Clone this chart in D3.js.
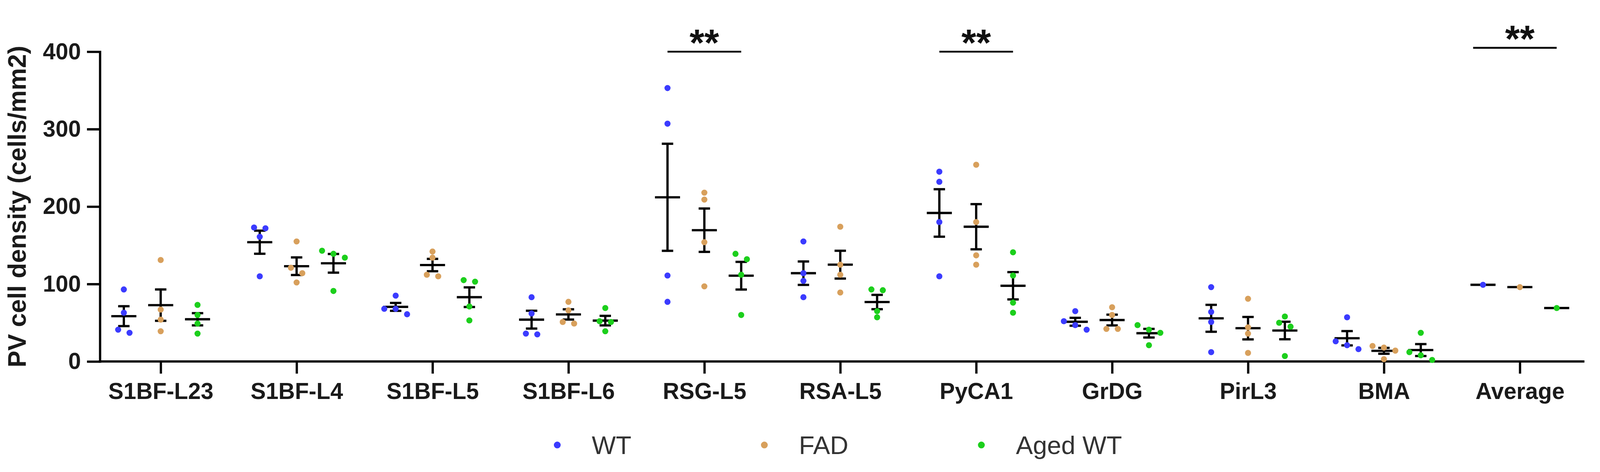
<!DOCTYPE html>
<html>
<head>
<meta charset="utf-8">
<script src="https://cdn.jsdelivr.net/npm/d3@7"></script>
<style>
  html, body { margin: 0; padding: 0; background: #fff; overflow: hidden; }
  svg { display: block; font-family: "Liberation Sans", Arial, sans-serif; }
</style>
</head>
<body>
<div id="chart"></div>
<script>
// regions on the x axis; the last one holds the per-group averages
const categories = ['S1BF-L23', 'S1BF-L4', 'S1BF-L5', 'S1BF-L6', 'RSG-L5', 'RSA-L5',
  'PyCA1', 'GrDG', 'PirL3', 'BMA', 'Average'];
const groups = ['WT', 'FAD', 'Aged WT'];
const groupColors = ['#3b3bff', '#d8a05c', '#1ccf1c'];

// individual animals, one array per region (same order as categories, without Average)
const wtValues = [
  [93, 63, 41, 37], [173, 172, 161, 110], [85, 68, 68, 61], [83, 62, 36, 35],
  [353, 307, 111, 77], [155, 114, 104, 83], [245, 232, 180, 110], [65, 52, 47, 41],
  [96, 64, 51, 12], [57, 26, 21, 16]
];
const fadValues = [
  [131, 67, 54, 39], [155, 121, 114, 102], [142, 134, 112, 110], [77, 66, 51, 49],
  [218, 209, 154, 97], [174, 125, 112, 89], [254, 180, 137, 125], [70, 60, 42, 42],
  [81, 44, 36, 11], [20, 18, 14, 3]
];
const agedValues = [
  [73, 60, 49, 36], [143, 139, 134, 91], [105, 103, 71, 53], [69, 52, 51, 39],
  [139, 132, 112, 60], [93, 92, 65, 57], [141, 111, 76, 63], [47, 41, 37, 21],
  [58, 50, 45, 7], [37, 12, 8, 2]
];
// "Average" column: one value per group
const averageValues = [99, 96, 69];

const yTicks = [0, 100, 200, 300, 400];
const sigBars = [
  { category: 'RSG-L5', level: 400, label: '**' },
  { category: 'PyCA1', level: 400, label: '**' },
  { category: 'Average', level: 405, label: '**' }
];

// drawing is laid out on a 4212 x 1209 canvas and scaled to the window
const width = 4212;
const height = 1209;

const svg = d3.select('#chart').append('svg')
  .attr('viewBox', '0 0 ' + width + ' ' + height)
  .attr('width', window.innerWidth || width)
  .attr('height', window.innerHeight || height);

svg.append('rect').attr('width', width).attr('height', height).attr('fill', '#fff');

const y = d3.scaleLinear().domain([0, 400]).range([935, 119]);
const x = d3.scalePoint().domain(categories).range([423, 4001]);
const xGroup = d3.scalePoint().domain(groups).range([-97, 97]);

// build one row per region/group with mean and SEM
const seriesValues = [wtValues, fadValues, agedValues];
const rows = [];
categories.forEach((cat, ci) => {
  groups.forEach((grp, gi) => {
    const values = cat === 'Average' ? [averageValues[gi]] : seriesValues[gi][ci];
    const mean = d3.mean(values);
    const sem = values.length > 1 ? d3.deviation(values) / Math.sqrt(values.length) : 0;
    rows.push({ cat, grp, gi, values, mean, sem });
  });
});

// spread points that would overlap vertically, like a column scatter
function spread (values) {
  const order = values.map((v, i) => ({ v, i })).sort((a, b) => b.v - a.v);
  const offsets = values.map(() => 0);
  let cluster = [order[0]];
  const flush = () => {
    cluster.forEach((d, k) => { offsets[d.i] = (k - (cluster.length - 1) / 2) * 30; });
  };
  for (let k = 1; k < order.length; k++) {
    if (y(order[k].v) - y(order[k - 1].v) < 16) {
      cluster.push(order[k]);
    } else {
      flush();
      cluster = [order[k]];
    }
  }
  flush();
  return offsets;
}

// y axis
const yAxis = svg.append('g')
  .attr('transform', 'translate(263,0)')
  .call(d3.axisLeft(y).tickValues(yTicks).tickSize(34).tickSizeOuter(0).tickPadding(16));
yAxis.select('.domain').attr('stroke', '#000').attr('stroke-width', 6).attr('stroke-linecap', 'square');
yAxis.selectAll('.tick line').attr('stroke', '#000').attr('stroke-width', 6);
yAxis.selectAll('.tick text')
  .attr('font-family', '"Liberation Sans", Arial, sans-serif')
  .attr('font-size', 60)
  .attr('font-weight', 'bold')
  .attr('fill', '#1a1a1a');

// x axis
const xAxis = svg.append('g')
  .attr('transform', 'translate(0,935)')
  .call(d3.axisBottom(x).tickSize(32).tickSizeOuter(0).tickPadding(24));
xAxis.select('.domain').remove();
xAxis.selectAll('.tick line').attr('stroke', '#000').attr('stroke-width', 6);
xAxis.selectAll('.tick text')
  .attr('font-family', '"Liberation Sans", Arial, sans-serif')
  .attr('font-size', 60)
  .attr('font-weight', 'bold')
  .attr('fill', '#1a1a1a');
xAxis.append('line')
  .attr('x1', 260)
  .attr('x2', 4171)
  .attr('y1', 0)
  .attr('y2', 0)
  .attr('stroke', '#000')
  .attr('stroke-width', 6);

// y axis title
svg.append('text')
  .attr('transform', 'translate(68,' + ((y(0) + y(400)) / 2) + ') rotate(-90)')
  .attr('text-anchor', 'middle')
  .attr('font-size', 66)
  .attr('font-weight', 'bold')
  .attr('fill', '#1a1a1a')
  .text('PV cell density (cells/mm2)');

// groups: error bars, mean line, points
const meanHalf = 33;
const capHalf = 15;
const groupsG = svg.selectAll('.group')
  .data(rows)
  .enter().append('g')
  .attr('class', 'group')
  .attr('transform', d => 'translate(' + (x(d.cat) + xGroup(d.grp)) + ',0)');

groupsG.filter(d => d.sem > 0).each(function (d) {
  const g = d3.select(this);
  const top = y(d.mean + d.sem);
  const bottom = y(d.mean - d.sem);
  g.append('line')
    .attr('x1', 0).attr('x2', 0)
    .attr('y1', top).attr('y2', bottom)
    .attr('stroke', '#000').attr('stroke-width', 6);
  [top, bottom].forEach(yy => {
    g.append('line')
      .attr('x1', -capHalf).attr('x2', capHalf)
      .attr('y1', yy).attr('y2', yy)
      .attr('stroke', '#000').attr('stroke-width', 6);
  });
});

groupsG.append('line')
  .attr('x1', -meanHalf).attr('x2', meanHalf)
  .attr('y1', d => y(d.mean)).attr('y2', d => y(d.mean))
  .attr('stroke', '#000').attr('stroke-width', 6);

groupsG.each(function (d) {
  const offsets = spread(d.values);
  d3.select(this).selectAll('circle')
    .data(d.values)
    .enter().append('circle')
    .attr('cx', (v, i) => offsets[i])
    .attr('cy', v => y(v))
    .attr('r', 8)
    .attr('fill', groupColors[d.gi]);
});

// significance bars
const sig = svg.selectAll('.sig')
  .data(sigBars)
  .enter().append('g')
  .attr('class', 'sig');
sig.append('line')
  .attr('x1', d => x(d.category) + xGroup('WT') - (d.category === 'Average' ? 26 : 0))
  .attr('x2', d => x(d.category) + xGroup('Aged WT'))
  .attr('y1', d => y(d.level))
  .attr('y2', d => y(d.level))
  .attr('stroke', '#111')
  .attr('stroke-width', 5);
sig.append('text')
  .attr('x', d => x(d.category))
  .attr('y', d => y(d.level) + 10)
  .attr('text-anchor', 'middle')
  .attr('font-size', 100)
  .attr('font-weight', 'bold')
  .attr('fill', '#111')
  .text(d => d.label);

// legend
const legend = svg.append('g').attr('transform', 'translate(0,1155)');
let lx = 1467;
groups.forEach((grp, gi) => {
  legend.append('circle')
    .attr('cx', lx).attr('cy', 0).attr('r', 9)
    .attr('fill', groupColors[gi]);
  const t = legend.append('text')
    .attr('x', lx + 91)
    .attr('y', 24)
    .attr('font-size', 67)
    .attr('fill', '#333')
    .text(grp);
  lx += 91 + t.node().getComputedTextLength() + 350;
});
</script>
</body>
</html>
